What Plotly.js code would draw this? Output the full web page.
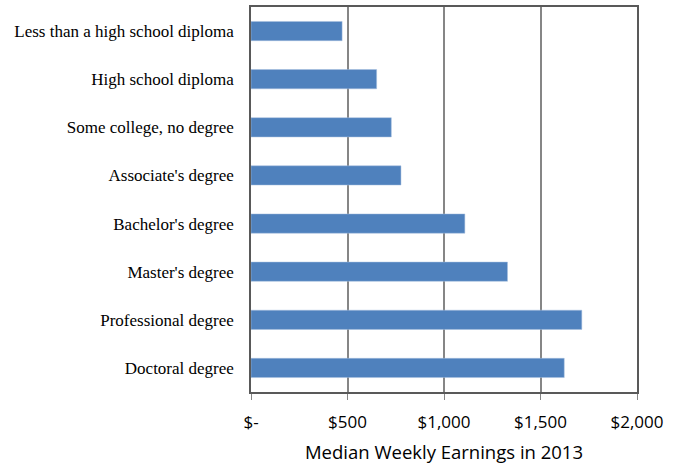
<!DOCTYPE html>
<html><head><meta charset="utf-8">
<script src="https://cdn.plot.ly/plotly-3.0.1.min.js"></script>
<style>html,body{margin:0;padding:0;background:#fff}</style>
</head><body>
<div id="chart" style="width:684px;height:465px"></div>
<script>
const categories = ["Less than a high school diploma","High school diploma","Some college, no degree","Associate's degree","Bachelor's degree","Master's degree","Professional degree","Doctoral degree"];
const earnings = [472, 651, 727, 777, 1108, 1329, 1714, 1623];
const tickValues = [0, 500, 1000, 1500, 2000];
const tickLabels = ["$-", "$500", "$1,000", "$1,500", "$2,000"];

Plotly.newPlot("chart", [{
  type: "bar",
  orientation: "h",
  y: categories,
  x: earnings,
  marker: {color: "#4F81BD", line: {color: "#A7BFDE", width: 0.5}},
  hoverinfo: "x+y"
}], {
  width: 684, height: 465,
  margin: {l: 251, r: 47, t: 7, b: 73},
  paper_bgcolor: "#fff", plot_bgcolor: "#fff",
  showlegend: false,
  bargap: 0.6,
  xaxis: {
    range: [0, 2000], tickvals: tickValues, ticktext: tickLabels,
    showgrid: true, gridcolor: "#868686", gridwidth: 1.5,
    zeroline: false, showline: true, linecolor: "#595959", linewidth: 1.5, mirror: true,
    ticks: "outside", ticklen: 6, tickcolor: "#868686",
    ticklabelstandoff: 8,
    tickfont: {family: "Open Sans, sans-serif", size: 17, color: "#000"},
    title: {text: "Median Weekly Earnings in 2013", font: {family: "Open Sans, sans-serif", size: 18.5, color: "#000"}, standoff: 14}
  },
  yaxis: {
    autorange: "reversed", type: "category",
    showline: true, linecolor: "#595959", linewidth: 1.5, mirror: true,
    ticks: "", showgrid: false,
    tickfont: {family: "Liberation Serif, serif", size: 17, color: "#000"},
    ticklabelstandoff: 12
  }
}, {displayModeBar: false});
</script>
</body></html>
